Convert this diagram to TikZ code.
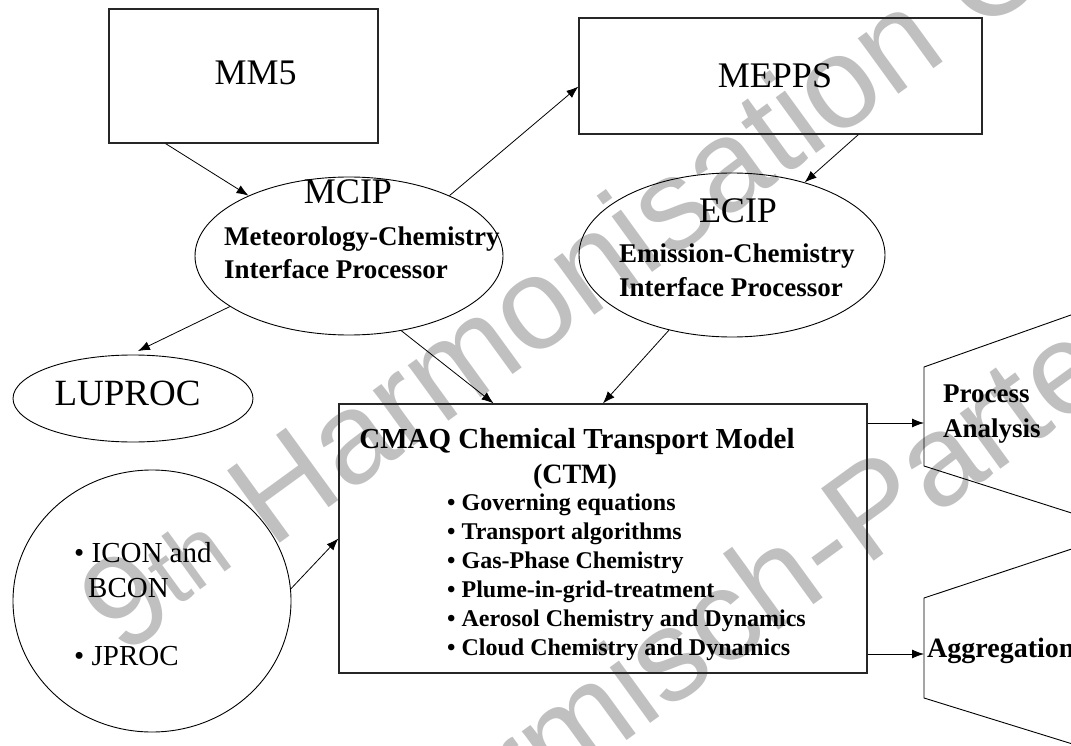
\documentclass[tikz,border=0pt]{standalone}
\usepackage{fontspec}
\setmainfont{Liberation Serif}
\newfontfamily\wmfont{Liberation Sans}
\usetikzlibrary{arrows.meta,shapes.geometric}
\definecolor{wmgray}{RGB}{192,192,192}
\begin{document}
\begin{tikzpicture}[x=1pt,y=-1pt,
  box/.style={draw=black!85, line width=1.3pt, rectangle, inner sep=0pt},
  oval/.style={draw=black, line width=0.9pt, ellipse, inner sep=0pt},
  hexa/.style={draw=black, line width=0.9pt},
  conn/.style={draw=black, line width=0.8pt, -{Latex[length=12pt,width=9pt]}},
  big/.style={inner sep=0pt, font=\fontsize{36}{40}\selectfont},
  sub/.style={inner sep=0pt, anchor=base west, font=\bfseries\fontsize{27}{32}\selectfont},
  circtext/.style={inner sep=0pt, anchor=base west, font=\fontsize{29}{32}\selectfont},
  ctmtitle/.style={inner sep=0pt, anchor=base, font=\bfseries\fontsize{29}{32}\selectfont},
  ctmitem/.style={inner sep=0pt, anchor=base west, font=\bfseries\fontsize{24}{28}\selectfont},
  outtext/.style={inner sep=0pt, anchor=base west, font=\bfseries\fontsize{27}{30}\selectfont},
  wmark/.style={inner sep=0pt, anchor=base west, rotate=36, text=wmgray, font=\wmfont\fontsize{130}{140}\selectfont}
]
\useasboundingbox (0,0) rectangle (1071,746);
\fill[white] (0,0) rectangle (1071,746);

% watermark
\node[wmark] (wm1) at (122,658) {9\textsuperscript{th} Harmonisation Conference};
\node[wmark] (wm2) at (380,920) {Garmisch-Partenkirchen};

% boxes
\node[box, minimum width=269pt, minimum height=134pt] (mm5) at (243.5,76) {};
\node[big, anchor=base] (mm5t) at (255.6,85) {MM5};
\node[box, minimum width=403pt, minimum height=116pt] (mepps) at (780.5,76) {};
\node[big, anchor=base] (meppst) at (775,88) {MEPPS};
\node[box, minimum width=528pt, minimum height=269pt] (cmaq) at (603,538.5) {};

% ellipses
\node[oval, minimum width=308pt, minimum height=158pt] (mcip) at (349,256) {};
\node[big, anchor=base] (mcipt) at (348,204) {MCIP};
\node[sub] (mcip2) at (224,245) {Meteorology-Chemistry};
\node[sub] (mcip3) at (224,278) {Interface Processor};

\node[oval, minimum width=306pt, minimum height=164pt] (ecip) at (732,255) {};
\node[big, anchor=base] (ecipt) at (738,222.7) {ECIP};
\node[sub] (ecip2) at (619,262) {Emission-Chemistry};
\node[sub] (ecip3) at (619,296.7) {Interface Processor};

\node[oval, minimum width=240pt, minimum height=87pt] (luproc) at (133,398.5) {};
\node[big, anchor=base, font=\fontsize{37}{40}\selectfont] (luproct) at (127.5,405) {LUPROC};

\node[oval, minimum width=278pt, minimum height=262pt] (icon) at (152,601) {};
\node[circtext] (icon1) at (74,562) {\textbullet\ ICON and};
\node[circtext] (icon2) at (88,597) {BCON};
\node[circtext] (icon3) at (74,665) {\textbullet\ JPROC};

% CMAQ text
\node[ctmtitle] (ct1) at (577,448) {CMAQ Chemical Transport Model};
\node[ctmtitle, font=\bfseries\fontsize{28}{32}\selectfont] (ct2) at (575,483) {(CTM)};
\node[ctmitem] (i1) at (447,510) {\textbullet\ Governing equations};
\node[ctmitem] (i2) at (447,539) {\textbullet\ Transport algorithms};
\node[ctmitem] (i3) at (447,568) {\textbullet\ Gas-Phase Chemistry};
\node[ctmitem] (i4) at (447,597) {\textbullet\ Plume-in-grid-treatment};
\node[ctmitem] (i5) at (447,626) {\textbullet\ Aerosol Chemistry and Dynamics};
\node[ctmitem] (i6) at (447,655) {\textbullet\ Cloud Chemistry and Dynamics};

% output shapes
\draw[hexa] (1150,287) -- (924,367) -- (924,466) -- (1150,538);
\draw[hexa] (1150,523) -- (924,598) -- (924,698) -- (1150,768);
\coordinate (pa) at (924,423);
\coordinate (ag) at (924,654);
\node[outtext] (pat1) at (943,402) {Process};
\node[outtext] (pat2) at (943,437) {Analysis};
\node[outtext, font=\bfseries\fontsize{28}{30}\selectfont] (agt) at (927,657) {Aggregation};

% connectors
\draw[conn] (mm5.221.6) -- (mcip.149.6);
\draw[conn] (mcip.31.2) -- (mepps.183.4);
\draw[conn] (mepps.-37.5) -- (ecip.45.1);
\draw[conn, shorten >=8pt] (mcip.203.85) -- (luproc.93.3);
\draw[conn] (mcip.-55.4) -- (cmaq.129.8);
\draw[conn] (ecip.230.9) -- (cmaq.90.8);
\draw[conn] (icon.5.75) -- (cmaq.180.3);
\draw[conn] (cmaq.east |- pa) -- (pa);
\draw[conn] (cmaq.east |- ag) -- (ag);
\end{tikzpicture}
\end{document}
